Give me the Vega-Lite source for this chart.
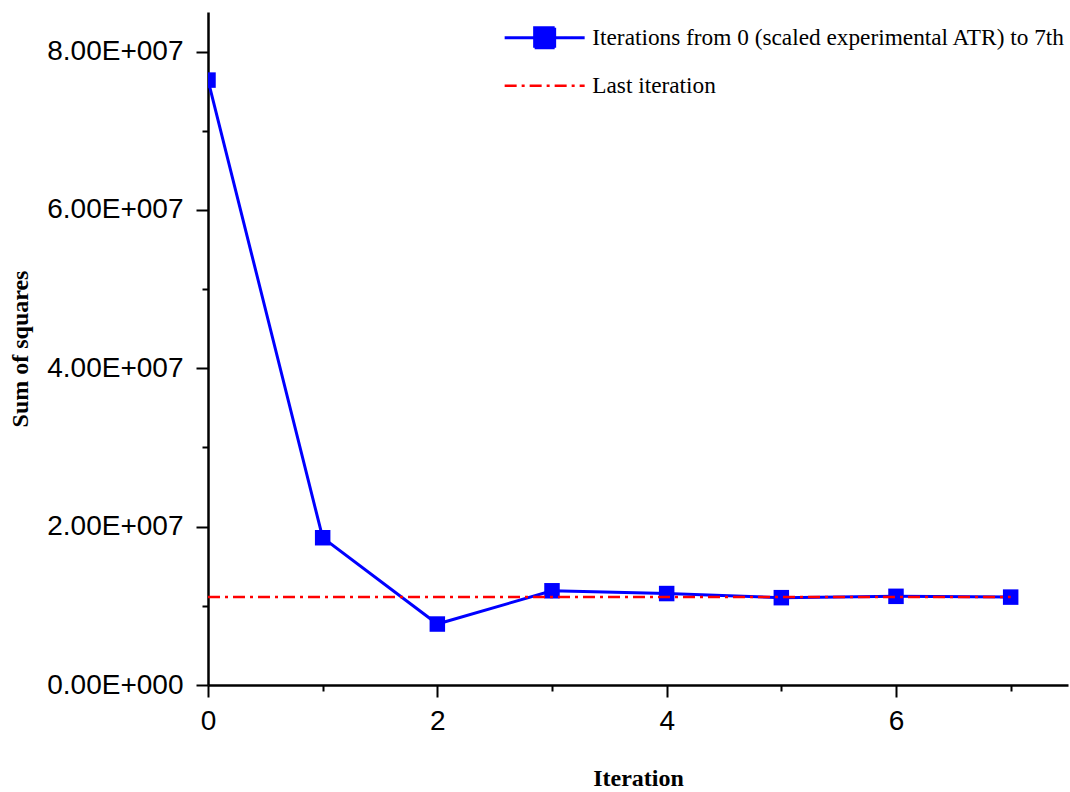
{
  "$schema": "https://vega.github.io/schema/vega-lite/v6.json",
  "width": 860,
  "height": 673,
  "padding": {"left": 208, "top": 12, "right": 2, "bottom": 107},
  "autosize": {"type": "none"},
  "background": "white",
  "config": {
    "view": {"stroke": null},
    "axis": {
      "grid": false,
      "domainColor": "black",
      "domainWidth": 2.5,
      "tickColor": "black",
      "tickWidth": 2,
      "labelFont": "Liberation Sans",
      "labelFontSize": 28,
      "labelColor": "black",
      "titleFont": "Liberation Serif",
      "titleFontWeight": "bold",
      "titleFontSize": 24,
      "titleColor": "black"
    }
  },
  "data": {
    "values": [
      {"iteration": 0, "ss": 76400000, "series": "Iterations from 0 (scaled experimental ATR) to 7th"},
      {"iteration": 1, "ss": 18600000, "series": "Iterations from 0 (scaled experimental ATR) to 7th"},
      {"iteration": 2, "ss": 7700000, "series": "Iterations from 0 (scaled experimental ATR) to 7th"},
      {"iteration": 3, "ss": 11900000, "series": "Iterations from 0 (scaled experimental ATR) to 7th"},
      {"iteration": 4, "ss": 11550000, "series": "Iterations from 0 (scaled experimental ATR) to 7th"},
      {"iteration": 5, "ss": 11030000, "series": "Iterations from 0 (scaled experimental ATR) to 7th"},
      {"iteration": 6, "ss": 11200000, "series": "Iterations from 0 (scaled experimental ATR) to 7th"},
      {"iteration": 7, "ss": 11100000, "series": "Iterations from 0 (scaled experimental ATR) to 7th"},
      {"iteration": 0, "ss": 11100000, "series": "Last iteration"},
      {"iteration": 7, "ss": 11100000, "series": "Last iteration"}
    ]
  },
  "encoding": {
    "x": {
      "field": "iteration",
      "type": "quantitative",
      "scale": {"domain": [0, 7.5], "nice": false, "zero": false},
      "axis": {
        "title": "Iteration",
        "values": [0, 1, 2, 3, 4, 5, 6, 7],
        "labelExpr": "datum.value % 2 === 0 ? datum.label : ''",
        "tickSize": {"condition": {"test": "datum.value % 2 === 0", "value": 12}, "value": 6},
        "labelPadding": 10,
        "labelFlush": false,
        "titlePadding": 31
      }
    },
    "y": {
      "field": "ss",
      "type": "quantitative",
      "scale": {"domain": [0, 85000000], "nice": false},
      "axis": {
        "title": "Sum of squares",
        "values": [0, 10000000, 20000000, 30000000, 40000000, 50000000, 60000000, 70000000, 80000000],
        "labelExpr": "datum.value % 20000000 !== 0 ? '' : (datum.value === 0 ? '0.00E+000' : format(datum.value / 10000000, '.2f') + 'E+007')",
        "tickSize": {"condition": {"test": "datum.value % 20000000 === 0", "value": 12}, "value": 6},
        "labelPadding": 13,
        "labelFlush": false,
        "titlePadding": 14
      }
    },
    "color": {
      "field": "series",
      "type": "nominal",
      "scale": {
        "domain": ["Iterations from 0 (scaled experimental ATR) to 7th", "Last iteration"],
        "range": ["#0000ff", "#ff0000"]
      },
      "legend": {
        "title": null,
        "orient": "none",
        "legendX": 325,
        "legendY": 14,
        "padding": 0,
        "symbolSize": 400,
        "rowPadding": 19,
        "labelOffset": 36,
        "labelFont": "Liberation Serif",
        "labelFontSize": 23.3,
        "labelColor": "black",
        "labelLimit": 0,
        "symbolStrokeWidth": 3,
        "encode": {
          "symbols": {
            "update": {
              "shape": {"signal": "datum.value === 'Last iteration' ? 'M-4,0L4,0' : 'M-4,0L4,0M-1,-1L1,-1L1,1L-1,1Z'"},
              "fill": {"signal": "datum.value === 'Last iteration' ? 'transparent' : '#0000ff'"},
              "stroke": {"signal": "datum.value === 'Last iteration' ? '#ff0000' : '#0000ff'"},
              "strokeDash": {"signal": "datum.value === 'Last iteration' ? [12, 5, 3, 5] : [1, 0]"},
              "strokeWidth": {"signal": "datum.value === 'Last iteration' ? 2.5 : 3"},
              "opacity": {"value": 1}
            }
          }
        }
      }
    }
  },
  "layer": [
    {
      "transform": [{"filter": "datum.series !== 'Last iteration'"}],
      "mark": {"type": "line", "strokeWidth": 3, "clip": true}
    },
    {
      "transform": [{"filter": "datum.series !== 'Last iteration'"}],
      "mark": {"type": "point", "shape": "square", "filled": true, "size": 240, "opacity": 1, "clip": true}
    },
    {
      "transform": [{"filter": "datum.series === 'Last iteration'"}],
      "mark": {"type": "line", "strokeWidth": 2.5, "strokeDash": [12, 5, 3, 5], "clip": true}
    }
  ]
}
